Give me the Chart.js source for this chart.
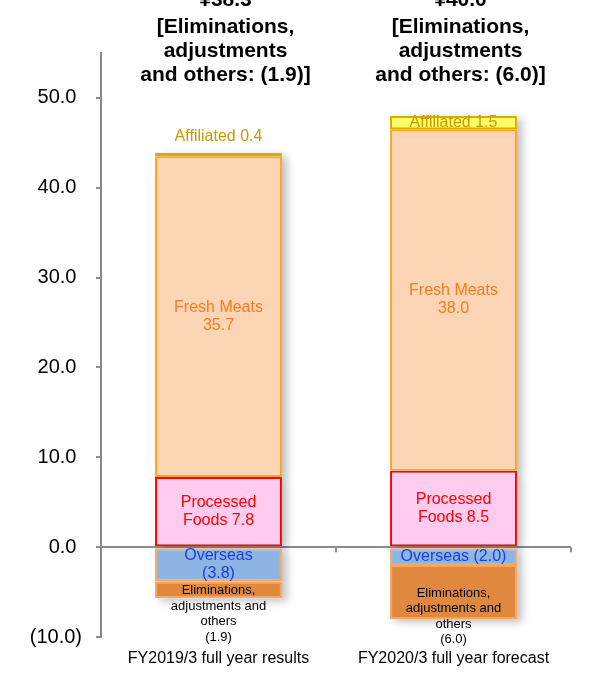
<!DOCTYPE html>
<html>
<head>
<meta charset="utf-8">
<script src="https://cdn.jsdelivr.net/npm/chart.js@4.4.1/dist/chart.umd.min.js"></script>
<style>
	body { margin: 0; background: #fff; }
	canvas { display: block; }
</style>
</head>
<body>
<canvas id="chart" width="600" height="674"></canvas>
<script>

var categories = ['FY2019/3 full year results', 'FY2020/3 full year forecast'];

var processedFoods = [7.8, 8.5];
var freshMeats = [35.7, 38.0];
var affiliated = [0.4, 1.5];
var overseas = [-3.8, -2.0];
var eliminations = [-1.9, -6.0];

var totals = [38.3, 40.0];

var yTicks = [-10, 0, 10, 20, 30, 40, 50];

var FONT = '"Liberation Sans", Arial, sans-serif';

function paren(v) {
	return v < 0 ? '(' + Math.abs(v).toFixed(1) + ')' : v.toFixed(1);
}

// text drawn on each segment, one entry per bar
var segText = {
	'Processed Foods': function (v) { return ['Processed', 'Foods ' + v.toFixed(1)]; },
	'Fresh Meats': function (v) { return ['Fresh Meats', v.toFixed(1)]; },
	'Affiliated': function (v) { return ['Affiliated ' + v.toFixed(1)]; },
	'Overseas': function (v, i) { return i == 0 ? ['Overseas', paren(v)] : ['Overseas ' + paren(v)]; },
	'Eliminations': function (v) { return ['Eliminations,', 'adjustments and', 'others', paren(v)]; }
};

var labelColors = {
	'Processed Foods': '#ff0000',
	'Fresh Meats': '#f57c1f',
	'Affiliated': '#c99a00',
	'Overseas': '#1a3fd6',
	'Eliminations': '#000000'
};

function makeSet(label, data, bg, border) {
	return {
		label: label,
		data: data,
		backgroundColor: bg,
		borderColor: border,
		borderWidth: 2,
		borderSkipped: false,
		barPercentage: 0.54,
		categoryPercentage: 1
	};
}

var data = {
	labels: categories,
	datasets: [
		makeSet('Processed Foods', processedFoods, '#ffccf0', '#ff0000'),
		makeSet('Fresh Meats', freshMeats, '#fcd5b4', '#ffa31a'),
		makeSet('Affiliated', affiliated, '#ffff66', '#dcaa00'),
		makeSet('Overseas', overseas, '#8eb4e3', '#f5a860'),
		makeSet('Eliminations', eliminations, '#e0883e', '#f7a55b')
	]
};

// soft shadow behind every bar segment
var shadowPlugin = {
	id: 'barShadow',
	beforeDatasetsDraw: function (chart) {
		var ctx = chart.ctx;
		ctx.save();
		ctx.shadowColor = 'rgba(0,0,0,0.25)';
		ctx.shadowBlur = 8;
		ctx.shadowOffsetX = 5;
		ctx.shadowOffsetY = 3;
		ctx.fillStyle = '#ffffff';
		chart.data.datasets.forEach(function (ds, di) {
			chart.getDatasetMeta(di).data.forEach(function (bar) {
				var p = bar.getProps(['x', 'y', 'base', 'width'], true);
				var top = Math.min(p.y, p.base);
				ctx.fillRect(p.x - p.width / 2, top, p.width, Math.abs(p.base - p.y));
			});
		});
		ctx.restore();
	}
};

var labelPlugin = {
	id: 'segLabels',
	afterDatasetsDraw: function (chart) {
		var ctx = chart.ctx;
		ctx.save();
		ctx.textAlign = 'center';
		ctx.textBaseline = 'middle';

		chart.data.datasets.forEach(function (ds, di) {
			var meta = chart.getDatasetMeta(di);
			meta.data.forEach(function (bar, i) {
				var p = bar.getProps(['x', 'y', 'base'], true);
				var v = ds.data[i];
				var lines = segText[ds.label](v, i);
				var small = ds.label == 'Eliminations';
				var lh = small ? 15.5 : 18;
				ctx.font = (small ? 13 : 16) + 'px ' + FONT;
				ctx.fillStyle = labelColors[ds.label];
				var h = Math.abs(p.base - p.y);
				var mid = (p.y + p.base) / 2;
				var y0;
				if (lines.length * lh <= h + 6) {
					y0 = mid - (lines.length - 1) * lh / 2;
				} else if (v > 0) {
					y0 = p.y - 16 - (lines.length - 1) * lh;
				} else {
					y0 = mid + 1;
				}
				lines.forEach(function (t, k) {
					ctx.fillText(t, p.x, y0 + k * lh);
				});
			});
		});

		// totals above each column
		ctx.fillStyle = '#000';
		ctx.font = 'bold 21px ' + FONT;
		var meta0 = chart.getDatasetMeta(0);
		meta0.data.forEach(function (bar, i) {
			var lines = ['¥' + totals[i].toFixed(1), '[Eliminations,', 'adjustments',
				'and others: ' + paren(eliminations[i]) + ']'];
			lines.forEach(function (t, k) {
				var y = k == 0 ? 0 : 4 + k * 23.7;
				ctx.fillText(t, bar.x + 7, y);
			});
		});

		// small marks under the zero line at category edges
		var xs = chart.scales.x, ys = chart.scales.y;
		var zero = ys.getPixelForValue(0);
		ctx.strokeStyle = '#8c8c8c';
		ctx.lineWidth = 2;
		for (var c = 0; c < categories.length; c++) {
			var edge = xs.getPixelForValue(c) + (xs.width / categories.length) / 2;
			ctx.beginPath();
			ctx.moveTo(edge, zero);
			ctx.lineTo(edge, zero + 5);
			ctx.stroke();
		}
		ctx.restore();
	}
};

var chart = new Chart(document.getElementById('chart').getContext('2d'), {
	type: 'bar',
	data: data,
	plugins: [shadowPlugin, labelPlugin],
	options: {
		responsive: false,
		animation: false,
		layout: { padding: { top: 53, right: 29, left: 0, bottom: 0 } },
		plugins: {
			legend: { display: false },
			tooltip: { enabled: false }
		},
		scales: {
			x: {
				stacked: true,
				grid: { display: false, drawTicks: false },
				border: { display: false },
				ticks: { color: '#000', font: { family: FONT, size: 16 }, padding: 12, maxRotation: 0 },
				afterFit: function (scale) { scale.height = 37; }
			},
			y: {
				stacked: true,
				min: -10,
				max: 55,
				z: 1,
				afterBuildTicks: function (scale) {
					scale.ticks = yTicks.map(function (v) { return { value: v }; });
				},
				afterFit: function (scale) { scale.width = 101; },
				grid: {
					drawOnChartArea: true,
					color: function (c) { return c.tick && c.tick.value === 0 ? '#8c8c8c' : 'rgba(0,0,0,0)'; },
					lineWidth: 2,
					tickColor: '#8c8c8c',
					tickLength: 5
				},
				border: { display: true, color: '#888888', width: 2 },
				ticks: {
					color: '#000',
					font: { family: FONT, size: 20 },
					padding: 14,
					// positive numbers keep a trailing gap so digits line up with "(10.0)"
					callback: function (v) { return v < 0 ? paren(v) : paren(v) + ' '; }
				}
			}
		}
	}
});

</script>
</body>
</html>
